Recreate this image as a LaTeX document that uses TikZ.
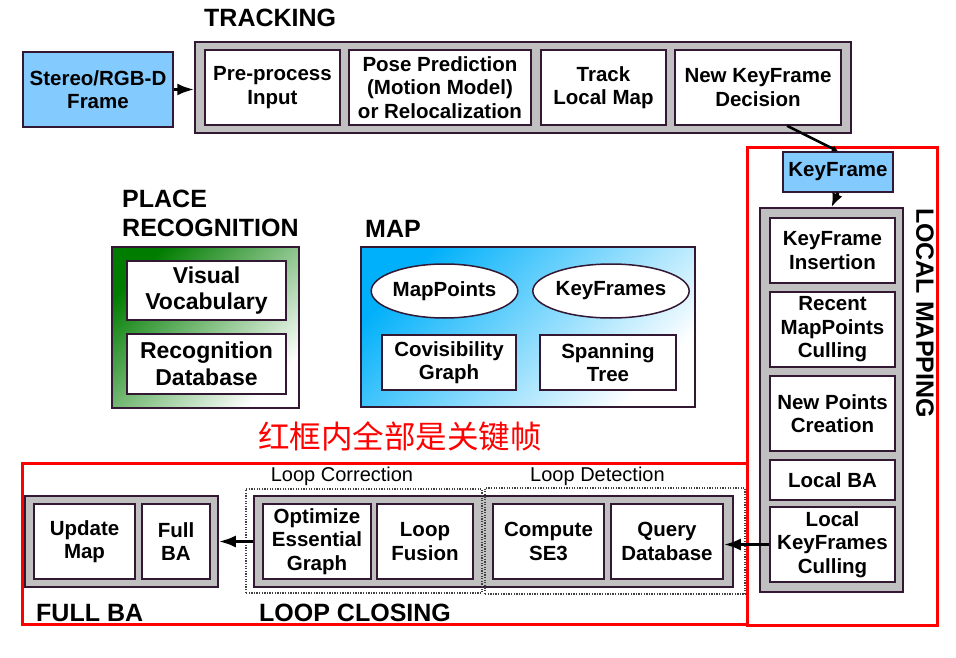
\documentclass[tikz,border=0pt]{standalone}
\usepackage{fontspec}
\setmainfont{Liberation Sans}
\newfontfamily\cjk{Noto Sans CJK SC}
\usepackage{tikz}
\usetikzlibrary{arrows.meta,calc,positioning,shapes.geometric}
\definecolor{orbedge}{RGB}{51,24,51}
\definecolor{orbgray}{RGB}{192,192,192}
\definecolor{orbblue}{RGB}{131,202,255}
\definecolor{orbgreen}{RGB}{0,125,0}
\definecolor{orbsky}{RGB}{0,176,250}
\definecolor{orbred}{RGB}{255,0,0}

\begin{document}
\begin{tikzpicture}[
  x=1pt,y=-1pt,
  font=\fontsize{20.5}{23.5}\selectfont\bfseries,
  sz/.style 2 args={minimum width=#1pt,minimum height=#2pt},
  proc/.style={draw=orbedge,line width=1.5pt,fill=white,inner sep=0pt,align=center},
  bigproc/.style={proc,font=\fontsize{23}{26.5}\selectfont\bfseries},
  stage/.style={draw=orbedge,line width=1.5pt,fill=orbgray,inner sep=0pt},
  frame/.style={proc,fill=orbblue},
  store/.style={proc,ellipse},
  region/.style={draw=orbred,line width=3pt,inner sep=0pt},
  group/.style={draw=black!75,line width=1.2pt,dash pattern=on 1.3pt off 1.3pt,inner sep=0pt},
  title/.style={font=\fontsize{25}{29}\selectfont\bfseries,inner sep=0pt},
  sub/.style={font=\fontsize{20}{24}\selectfont\mdseries,inner sep=0pt},
  flow/.style={->,line width=3pt},
  >={Latex[length=17pt,width=12pt]}
]
  \useasboundingbox (0,0) rectangle (956,658);

  % tracking
  \node[title,anchor=base west] (ttrk) at (204,27) {TRACKING};
  \node[frame,sz={150}{75}] (stereo) at (98,89.5) {Stereo/RGB-D\\Frame};
  \node[stage,sz={656}{91}] (trk) at (523,87.5) {};
  \node[proc,sz={135}{75}] (pre) at (272.5,87.5) {Pre-process\\Input};
  \node[proc,sz={182}{75}] (pose) at (440,87.5) {Pose Prediction\\(Motion Model)\\or Relocalization};
  \node[proc,sz={125}{75}] (tlm) at (603.5,87.5) {Track\\Local Map};
  \node[proc,sz={166}{75}] (nkf) at (758,87.5) {New KeyFrame\\Decision};
  \draw[flow] (stereo.east) -- (stereo.east -| trk.west);

  % local mapping
  \node[region,sz={190}{477}] (lmred) at (842,386.5) {};
  \node[frame,sz={110}{40}] (kf) at (838,172) {KeyFrame};
  \node[stage,sz={143}{384}] (lm) at (831.5,400) {};
  \node[proc,sz={125}{65}] (kfi) at (832.5,250.5) {KeyFrame\\Insertion};
  \node[proc,sz={125}{75}] (rmc) at (832.5,329.5) {Recent\\MapPoints\\Culling};
  \node[proc,sz={125}{75}] (npc) at (832.5,413.5) {New Points\\Creation};
  \node[proc,sz={125}{40}] (lba) at (832.5,480) {Local BA};
  \node[proc,sz={125}{75}] (lkc) at (832.5,544.5) {Local\\KeyFrames\\Culling};
  \node[title,rotate=-90] (tlm2) at (925,313) {LOCAL MAPPING};
  \draw[line width=2.5pt,-{Latex[length=6pt,width=7pt]}] ($(nkf.south)+(29,0)$) -- (kf.north);
  \draw[flow,>={Latex[length=14pt,width=11pt]}] (kf.south) -- (lm.north);

  % place recognition
  \node[title,anchor=north west,align=left] (tpr) at (122,190) {PLACE\\RECOGNITION};
  \node[draw=orbedge,line width=1.5pt,inner sep=0pt,sz={187}{161},
        top color=orbgreen,bottom color=white,shading angle=45] (pr) at (205.5,327.5) {};
  \node[bigproc,sz={159}{59}] (vv) at (206.5,290.5) {Visual\\Vocabulary};
  \node[bigproc,sz={159}{60}] (rdb) at (206.5,364) {Recognition\\Database};

  % map
  \node[title,anchor=base west] (tmap) at (365,237) {MAP};
  \node[draw=orbedge,line width=1.5pt,inner sep=0pt,sz={334}{160},
        top color=orbsky,bottom color=white,shading angle=45] (map) at (528,327) {};
  \node[store,sz={145}{54}] (mp) at (444.5,291) {MapPoints};
  \node[store,sz={144}{54}] (kfs) at (611,291) {KeyFrames};
  \node[proc,sz={134}{55}] (cg) at (449,362.5) {Covisibility\\Graph};
  \node[proc,sz={136}{55}] (st) at (608,362.5) {Spanning\\Tree};

  \node[font=\cjk\fontsize{31.5}{34}\selectfont,text=orbred,inner sep=0pt] (note) at (400,436) {红框内全部是关键帧};

  % loop closing and full BA
  \node[region,sz={725}{161}] (lcred) at (384.5,543.5) {};
  \node[stage,sz={193}{91}] (fba) at (121.5,541.5) {};
  \node[proc,sz={101}{75}] (um) at (84.5,541.5) {Update\\Map};
  \node[proc,sz={68}{75}] (fb) at (176,541.5) {Full\\BA};
  \node[stage,sz={479}{91}] (lc) at (493.5,541.5) {};
  \node[group,sz={236}{104}] (corr) at (364,541) {};
  \node[group,sz={260}{106}] (det) at (615,541) {};
  \node[proc,sz={108}{75}] (oeg) at (317,541.5) {Optimize\\Essential\\Graph};
  \node[proc,sz={96}{75}] (lf) at (425,541.5) {Loop\\Fusion};
  \node[proc,sz={111}{75}] (se3) at (548.5,541.5) {Compute\\SE3};
  \node[proc,sz={112}{75}] (qd) at (667,541.5) {Query\\Database};
  \node[sub] (tcorr) at (342,476) {Loop Correction};
  \node[sub] (tdet) at (597.5,476) {Loop Detection};
  \node[title,anchor=base west] (tfba) at (36,621) {FULL BA};
  \node[title,anchor=base west] (tlc) at (259,621) {LOOP CLOSING};
  \draw[flow] (lc.west) -- (fba.east);
  \draw[flow] (lkc.west) -- (lkc.west -| qd.east);
\end{tikzpicture}
\end{document}
